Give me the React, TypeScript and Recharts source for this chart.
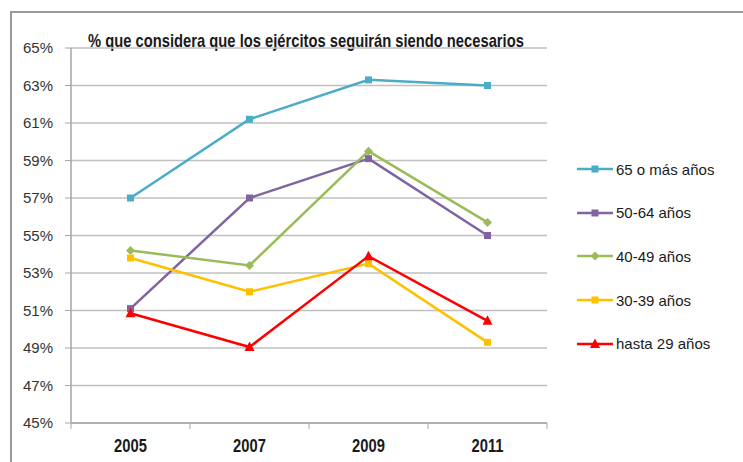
import React from 'react';
import { LineChart, Line, XAxis, YAxis, CartesianGrid } from 'recharts';

const years = ['2005', '2007', '2009', '2011'];
const mas65 = [57.0, 61.2, 63.3, 63.0];
const de50a64 = [51.1, 57.0, 59.1, 55.0];
const de40a49 = [54.2, 53.4, 59.5, 55.7];
const de30a39 = [53.8, 52.0, 53.5, 49.3];
const hasta29 = [50.85, 49.05, 53.9, 50.45];
const yTicks = [45, 47, 49, 51, 53, 55, 57, 59, 61, 63, 65];

const series = [
  { key: 'mas65', name: '65 o más años', color: '#4BACC6', shape: 'square', values: mas65 },
  { key: 'de50a64', name: '50-64 años', color: '#8064A2', shape: 'square', values: de50a64 },
  { key: 'de40a49', name: '40-49 años', color: '#9BBB59', shape: 'diamond', values: de40a49 },
  { key: 'de30a39', name: '30-39 años', color: '#FFC000', shape: 'square', values: de30a39 },
  { key: 'hasta29', name: 'hasta 29 años', color: '#FF0000', shape: 'triangle', values: hasta29 },
];

const data = years.map((year, i) => {
  const row: any = { year };
  series.forEach((s) => (row[s.key] = s.values[i]));
  return row;
});

const sans = '"Liberation Sans", Arial, sans-serif';
const W = 743;
const H = 462;
const M = { top: 48, right: 196, bottom: 9, left: 11 };
const Y_W = 60;
const bandW = (W - M.left - M.right - Y_W) / years.length;

const Marker = ({ cx, cy, shape, color }: any) => {
  if (cx == null || cy == null) return null;
  if (shape === 'diamond') {
    return <polygon points={`${cx},${cy - 4.5} ${cx + 4.5},${cy} ${cx},${cy + 4.5} ${cx - 4.5},${cy}`} fill={color} />;
  }
  if (shape === 'triangle') {
    return <polygon points={`${cx},${cy - 5.5} ${cx + 5},${cy + 4} ${cx - 5},${cy + 4}`} fill={color} />;
  }
  return <rect x={cx - 3.5} y={cy - 3.5} width={7} height={7} fill={color} />;
};

// year labels in a narrow bold face (Arial Narrow look), plus tick marks between categories
const YearTick = ({ x, y, payload, index }: any) => (
  <g>
    <line x1={x - bandW / 2} y1={y - 8} x2={x - bandW / 2} y2={y - 2} stroke="#A6A6A6" />
    {index === years.length - 1 && (
      <line x1={x + bandW / 2} y1={y - 8} x2={x + bandW / 2} y2={y - 2} stroke="#A6A6A6" />
    )}
    <g transform={`translate(${x},${y + 21}) scale(0.82,1)`}>
      <text x={0} y={0} textAnchor="middle" fontFamily={sans} fontWeight="bold" fontSize={18} fill="#1a1a1a">
        {payload.value}
      </text>
    </g>
  </g>
);

const LegendBox = () => (
  <div style={{ position: 'absolute', left: 577, top: 158 }}>
    {series.map((s) => (
      <div key={s.key} style={{ display: 'flex', alignItems: 'center', height: 22, marginBottom: 21.7 }}>
        <svg width={36} height={14}>
          <line x1={0} y1={7} x2={36} y2={7} stroke={s.color} strokeWidth={2.5} />
          <Marker cx={18} cy={7} shape={s.shape} color={s.color} />
        </svg>
        <span style={{ fontFamily: sans, fontSize: 15, color: '#1a1a1a', marginLeft: 3 }}>{s.name}</span>
      </div>
    ))}
  </div>
);

export default function App() {
  return (
    <div style={{ position: 'fixed', left: 0, top: 0, width: W, height: H, background: '#fff', overflow: 'hidden' }}>
      <div
        style={{
          position: 'absolute',
          left: 10,
          top: 11,
          width: W,
          height: H,
          borderTop: '2px solid #9a9a9a',
          borderLeft: '2px solid #9a9a9a',
        }}
      />
      <svg style={{ position: 'absolute', left: 0, top: 0 }} width={W} height={60}>
        <g transform="translate(306,47) scale(0.82,1)">
          <text x={0} y={0} textAnchor="middle" fontFamily={sans} fontWeight="bold" fontSize={18} fill="#1a1a1a">
            % que considera que los ejércitos seguirán siendo necesarios
          </text>
        </g>
      </svg>
      <div style={{ position: 'absolute', left: 0, top: 0 }}>
        <LineChart width={W} height={H} data={data} margin={M}>
          <CartesianGrid vertical={false} stroke="#C0C0C0" strokeWidth={1.5} />
          <XAxis
            dataKey="year"
            axisLine={{ stroke: '#A6A6A6', strokeWidth: 1.5 }}
            tickLine={false}
            tick={<YearTick />}
            height={30}
            interval={0}
            padding={{ left: bandW / 2, right: bandW / 2 }}
          />
          <YAxis
            domain={[45, 65]}
            ticks={yTicks}
            width={Y_W}
            axisLine={{ stroke: '#A6A6A6', strokeWidth: 1.5 }}
            tickLine={{ stroke: '#A6A6A6' }}
            tickSize={6}
            tickMargin={12}
            tickFormatter={(v) => `${v}%`}
            tick={{ fontFamily: sans, fontSize: 15, fill: '#333' }}
          />
          {series.map((s) => (
            <Line
              key={s.key}
              dataKey={s.key}
              name={s.name}
              stroke={s.color}
              strokeWidth={2.5}
              isAnimationActive={false}
              dot={(p: any) => <Marker key={`${s.key}-${p.index}`} cx={p.cx} cy={p.cy} shape={s.shape} color={s.color} />}
              activeDot={false}
            />
          ))}
        </LineChart>
      </div>
      <LegendBox />
    </div>
  );
}
